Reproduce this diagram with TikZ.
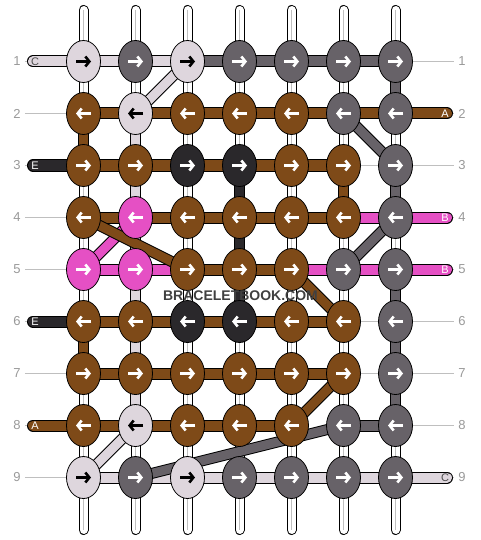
\documentclass[tikz,border=0pt]{standalone}
\usepackage{fontspec}
\setmainfont{Liberation Sans}
\usetikzlibrary{arrows.meta, backgrounds, shapes.geometric}

\definecolor{lpk}{RGB}{222,214,221}
\definecolor{gry}{RGB}{103,98,104}
\definecolor{brn}{RGB}{126,74,24}
\definecolor{drk}{RGB}{42,40,43}
\definecolor{pnk}{RGB}{229,80,196}
\colorlet{arrlpk}{black}
\colorlet{arrgry}{white}
\colorlet{arrbrn}{white}
\colorlet{arrdrk}{white}
\colorlet{arrpnk}{white}

\begin{document}
\begin{tikzpicture}[
    x=1pt, y=-1pt,
    every node/.style={font=\fontsize{13}{13}\selectfont},
    knot/.style={ellipse, draw=black, line width=0.8pt, minimum width=34pt, minimum height=42pt, inner sep=0pt},
    arr/.style={line width=2.6pt, -{Straight Barb[length=4pt, width=10pt]}},
    tube/.style={draw=black, line width=10pt, line cap=round, postaction={draw=white, line width=8pt}},
    tubeline/.style={draw=black!25, line width=0.8pt},
    vthr/.style={draw=black, line width=11pt, postaction={draw=#1, line width=9pt}},
    hthr/.style={draw=black, line width=12pt, postaction={draw=#1, line width=10pt}},
    stub/.style={hthr=#1, line cap=round},
    guide/.style={draw=black!25, line width=0.8pt},
    rownum/.style={text=black!40, inner sep=4pt},
    tag/.style={font=\fontsize{11}{11}\selectfont, text=#1, inner sep=0pt},
    wmark/.style={font=\bfseries\fontsize{14}{14}\selectfont, text=black!75},
  ]
  \useasboundingbox (0,0) rectangle (480,540);

  % knots, row by row
  \foreach \r/\dir/\cols in {1/1/{lpk,gry,lpk,gry,gry,gry,gry}, 2/-1/{brn,lpk,brn,brn,brn,gry,gry},
      3/1/{brn,brn,drk,drk,brn,brn,gry}, 4/-1/{brn,pnk,brn,brn,brn,brn,gry},
      5/1/{pnk,pnk,brn,brn,brn,gry,gry}, 6/-1/{brn,brn,drk,drk,brn,brn,gry},
      7/1/{brn,brn,brn,brn,brn,brn,gry}, 8/-1/{brn,lpk,brn,brn,brn,gry,gry},
      9/1/{lpk,gry,lpk,gry,gry,gry,gry}} {
    \foreach \col [count=\c] in \cols {
      \node[knot, fill=\col] (n\r-\c) at ({31.5+52*\c}, {9.5+52*\r}) {};
      \draw[arr, draw=arr\col] ([xshift={-7.5pt*(\dir)}]n\r-\c.center) -- ([xshift={7.5pt*(\dir)}]n\r-\c.center);
    }
  }

  % row numbers
  \foreach \r in {1,...,9} {
    \node[rownum] (numl-\r) at (17, {9.5+52*\r}) {\r};
    \node[rownum] (numr-\r) at (462, {9.5+52*\r}) {\r};
  }

  % string ends
  \foreach \c in {1,...,7} {
    \coordinate (top-\c) at ({31.5+52*\c}, 10);
    \coordinate (bot-\c) at ({31.5+52*\c}, 530);
  }
  \foreach \r/\txt/\tcol in {1/C/black!70, 3/E/white, 6/E/white, 8/A/white} {
    \coordinate (lft-\r) at (33, {9.5+52*\r});
    \node[tag=\tcol] (tagl-\r) at (35, {9.5+52*\r}) {\txt};
  }
  \foreach \r/\txt/\tcol in {2/A/white, 4/B/white, 5/B/white, 9/C/black!70} {
    \coordinate (rgt-\r) at (447, {9.5+52*\r});
    \node[tag=\tcol] (tagr-\r) at (445, {9.5+52*\r}) {\txt};
  }

  \node[wmark] (brand) at (240.5, 296) {BRACELETBOOK.COM};

  \begin{scope}[on background layer]
    % guide lines to the numbers
    \foreach \r in {1,...,9} {
      \draw[guide] (numl-\r) -- (n\r-1.center);
      \draw[guide] (n\r-6.center) -- (numr-\r);
    }
    % white strings
    \foreach \c in {1,...,7} {
      \draw[tube] (top-\c) -- (bot-\c);
      \draw[tubeline] (top-\c) -- (bot-\c);
    }
    % coloured runs down a column
    \foreach \c/\a/\b/\col in {1/2/3/brn, 1/6/7/brn, 2/2/8/lpk, 4/3/6/drk, 6/3/4/brn,
        7/1/2/gry, 7/3/4/gry, 7/5/8/gry}
      \draw[vthr=\col] (n\a-\c.center) -- (n\b-\c.center);
    % runs along a row
    \foreach \r/\a/\b/\col in {1/1/3/lpk, 1/3/7/gry, 2/1/7/brn, 3/1/6/brn, 4/1/6/brn, 4/6/7/pnk,
        5/1/3/pnk, 5/3/5/brn, 5/5/7/pnk, 6/1/6/brn, 7/1/6/brn, 8/1/5/brn, 8/6/7/gry, 9/1/7/lpk}
      \draw[hthr=\col] (n\r-\a.center) -- (n\r-\b.center);
    % loose ends
    \foreach \r/\col in {1/lpk, 3/drk, 6/drk, 8/brn}
      \draw[stub=\col] (lft-\r) -- (n\r-1.center);
    \foreach \r/\col in {2/brn, 4/pnk, 5/pnk, 9/lpk}
      \draw[stub=\col] (n\r-7.center) -- (rgt-\r);
    % diagonals
    \foreach \ra/\ca/\rb/\cb/\col in {1/3/2/2/lpk, 2/6/3/7/gry, 4/2/5/1/pnk, 4/1/5/3/brn,
        4/7/5/6/gry, 5/5/6/6/brn, 7/6/8/5/brn, 8/6/9/2/gry, 8/2/9/1/lpk}
      \draw[vthr=\col] (n\ra-\ca.center) -- (n\rb-\cb.center);
  \end{scope}
\end{tikzpicture}
\end{document}
